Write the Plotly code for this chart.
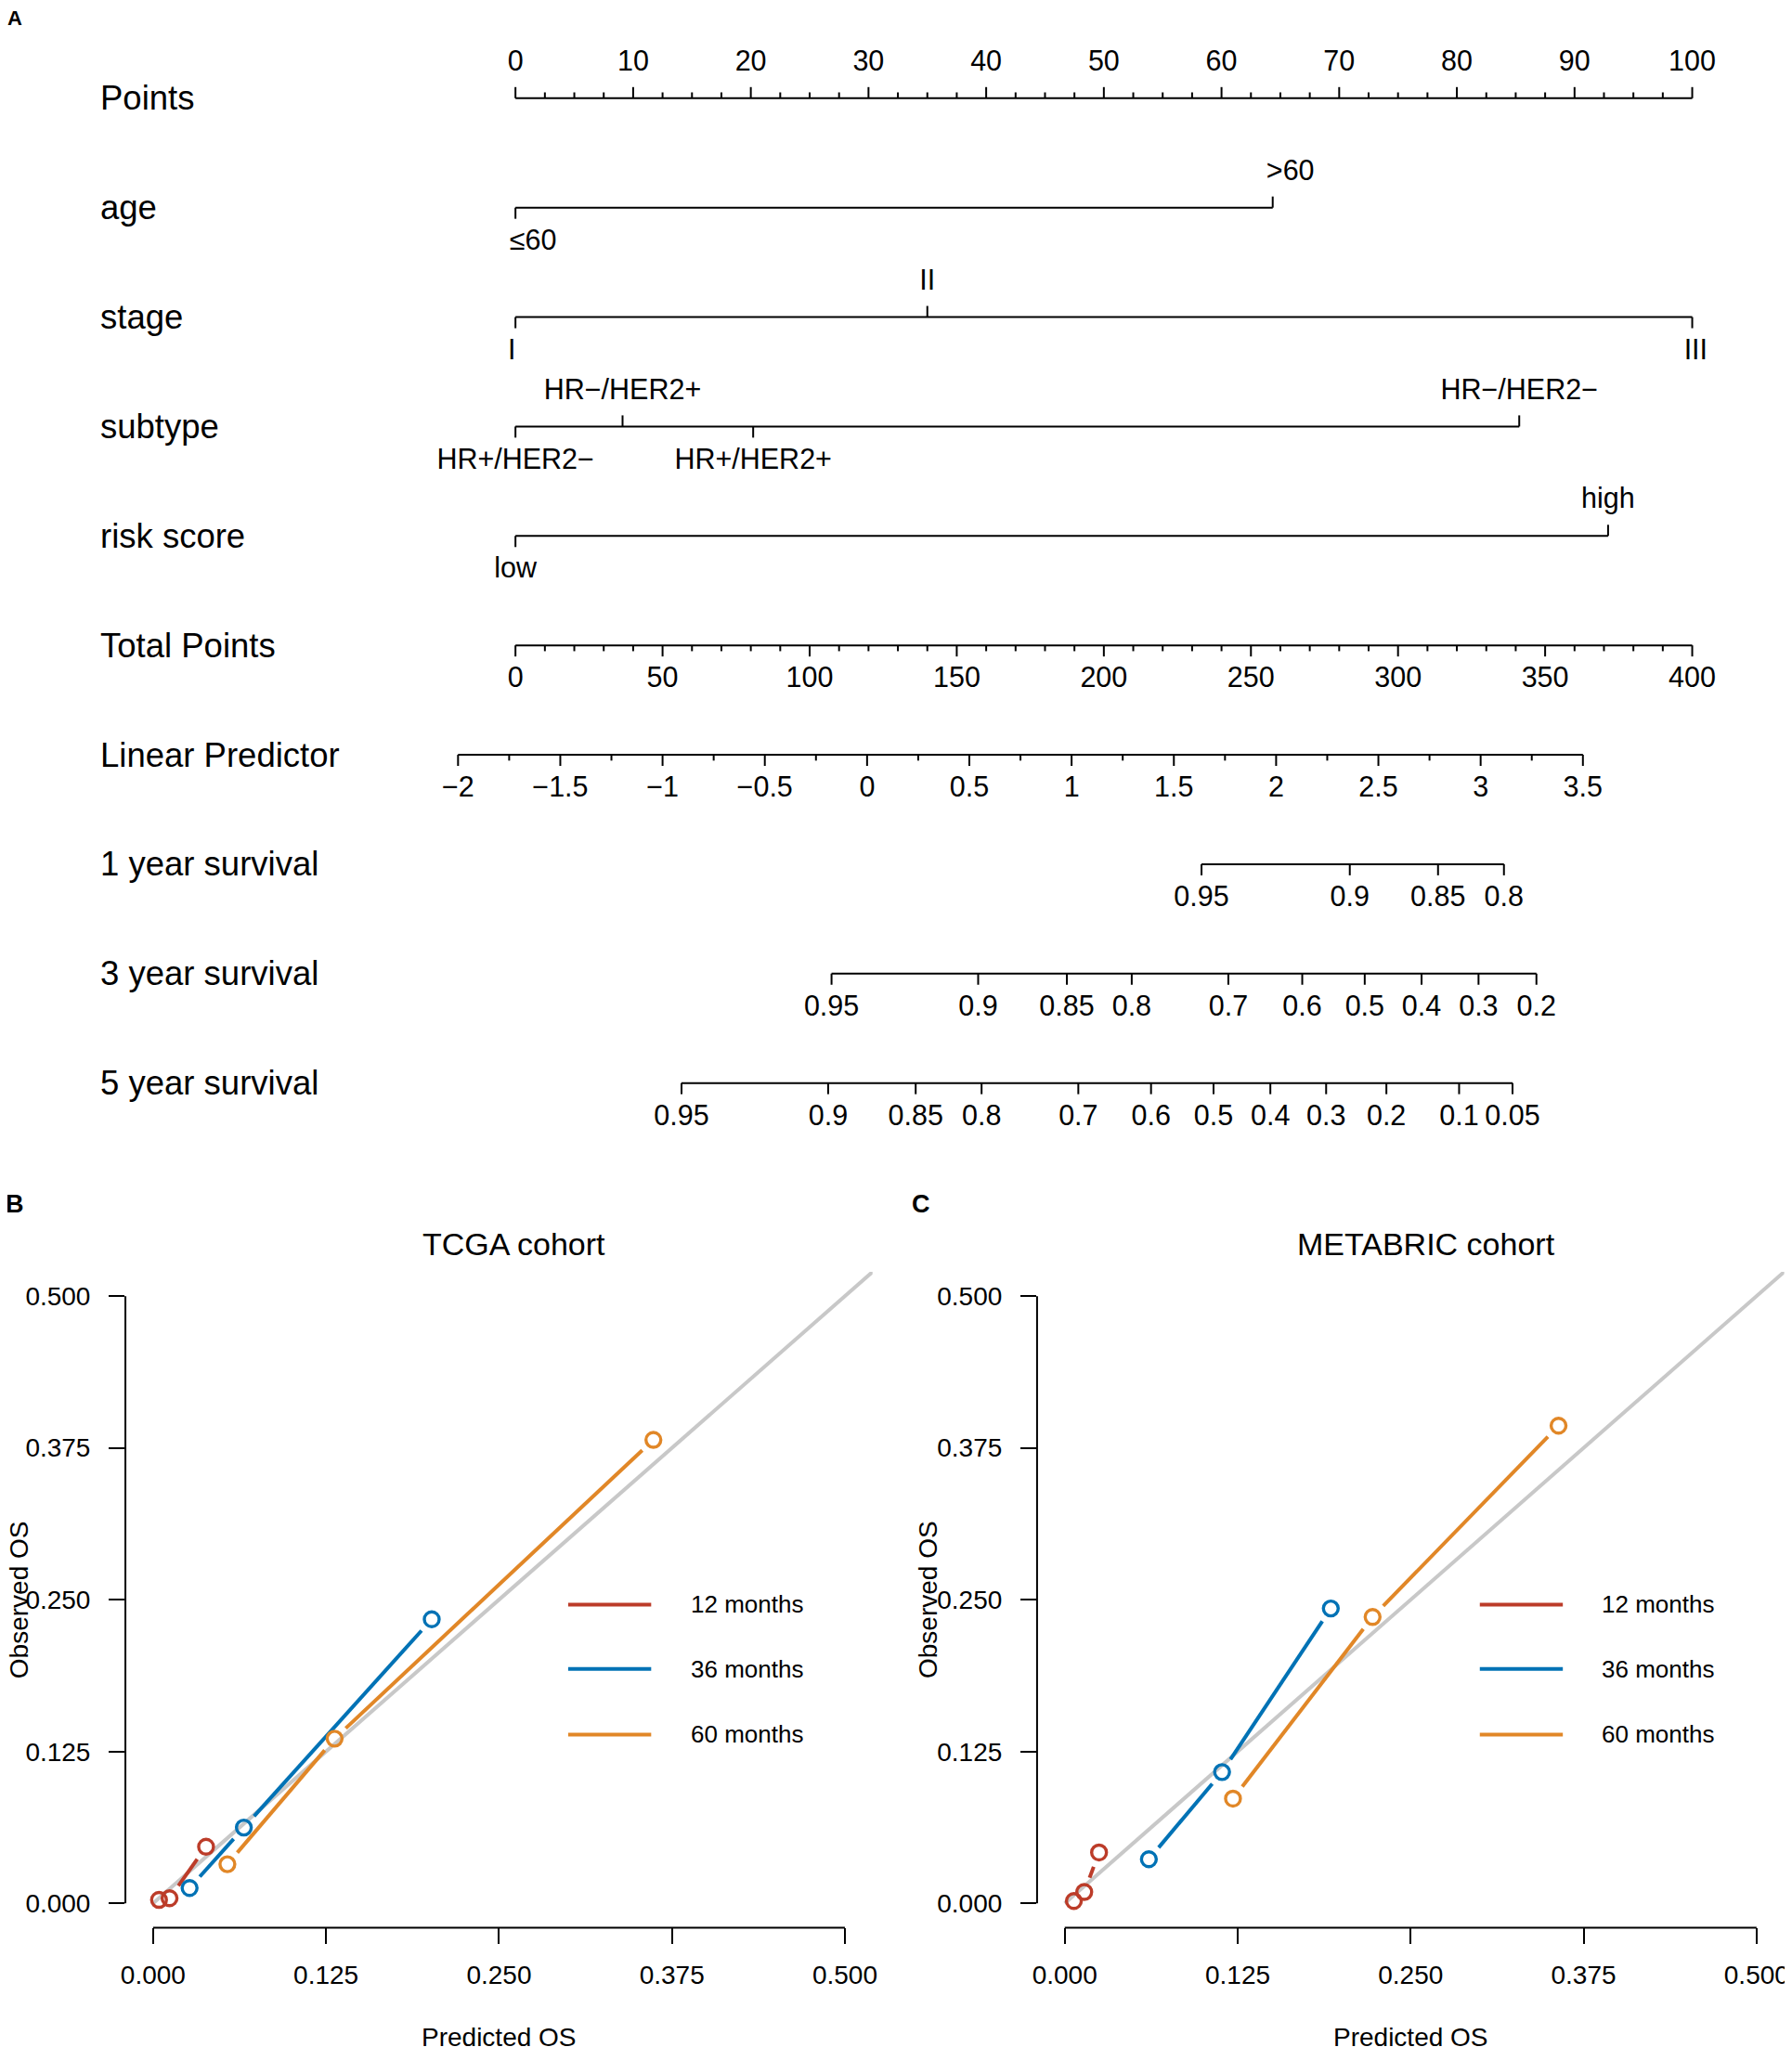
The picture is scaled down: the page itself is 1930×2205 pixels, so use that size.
import plotly.graph_objects as go

OFF = 8                      # page body margin of the html page
W, H = 1930 - OFF, 2205 - OFF
FONT = "Liberation Sans, Arial, sans-serif"

# ---------------- Panel A: nomogram (positions on the 0-100 Points scale) ----------------
row_names = ["Points", "age", "stage", "subtype", "risk score", "Total Points",
             "Linear Predictor", "1 year survival", "3 year survival", "5 year survival"]

points_major = list(range(0, 101, 10))
points_minor = [2.5 * i for i in range(41) if (2.5 * i) % 10]

age_labels = ["≤60", ">60"]
age_points = [0, 64.35]
age_side = [1, -1]          # 1 = tick/label below the line, -1 = above

stage_labels = ["I", "II", "III"]
stage_points = [0, 35.0, 100]
stage_side = [1, -1, 1]

subtype_labels = ["HR+/HER2−", "HR−/HER2+", "HR+/HER2+", "HR−/HER2−"]
subtype_points = [0, 9.1, 20.2, 85.3]
subtype_side = [1, -1, 1, -1]

risk_labels = ["low", "high"]
risk_points = [0, 92.85]
risk_side = [1, -1]

total_major = list(range(0, 401, 50))
total_minor = [t for t in range(0, 401, 10) if t % 50]

lp_major = [-2, -1.5, -1, -0.5, 0, 0.5, 1, 1.5, 2, 2.5, 3, 3.5]
lp_minor = [-1.75, -1.25, -0.75, -0.25, 0.25, 0.75, 1.25, 1.75, 2.25, 2.75, 3.25]
lp_zero_points = 29.88      # Points value where the linear predictor is 0
lp_points_per_unit = 17.38

surv1_labels = ["0.95", "0.9", "0.85", "0.8"]
surv1_points = [58.3, 70.9, 78.4, 84.0]

surv3_labels = ["0.95", "0.9", "0.85", "0.8", "0.7", "0.6", "0.5", "0.4", "0.3", "0.2"]
surv3_points = [26.86, 39.32, 46.86, 52.37, 60.58, 66.86, 72.17, 77.0, 81.84, 86.76]

surv5_labels = ["0.95", "0.9", "0.85", "0.8", "0.7", "0.6", "0.5", "0.4", "0.3", "0.2", "0.1", "0.05"]
surv5_points = [14.11, 26.57, 34.01, 39.61, 47.83, 54.01, 59.32, 64.15, 68.89, 74.01, 80.19, 84.73]

# ---------------- Panels B / C: calibration curves ----------------
groups = ["12 months", "36 months", "60 months"]
colors = ["#BC3C29", "#0072B5", "#E18727"]

tcga_pred = [[0.0043, 0.0119, 0.0383], [0.0264, 0.0656, 0.2014], [0.0537, 0.1312, 0.3616]]
tcga_obs = [[0.0028, 0.0042, 0.0466], [0.0126, 0.0624, 0.2339], [0.0322, 0.1356, 0.3816]]

meta_pred = [[0.0066, 0.0141, 0.0248], [0.0608, 0.1137, 0.1923], [0.1216, 0.2225, 0.3569]]
meta_obs = [[0.0019, 0.0093, 0.0419], [0.0363, 0.1081, 0.2428], [0.0862, 0.2358, 0.3933]]

cal_ticks = [0, 0.125, 0.25, 0.375, 0.5]
cal_ticktext = ["0.000", "0.125", "0.250", "0.375", "0.500"]


def px(x):
    return (x - OFF) / W


def py(y):
    return 1 - (y - OFF) / H


fig = go.Figure()

# ---- nomogram axes: x in Points units, y in row index ----
PX_PER_POINT = 12.74
X0_PX = 553 - OFF
ROW0_PX = 105.8 - OFF
ROW_PX = 117.87
fig.update_layout(
    xaxis3=dict(domain=[0, 1], range=[-X0_PX / PX_PER_POINT, (W - X0_PX) / PX_PER_POINT],
                visible=False, anchor="y3"),
    yaxis3=dict(domain=[0, 1], range=[(H - ROW0_PX) / ROW_PX, -ROW0_PX / ROW_PX],
                visible=False, anchor="x3"),
)

MAJOR = 12 / ROW_PX
MINOR = 6.3 / ROW_PX
LABEL_OFF = 37.5 / ROW_PX
LW = 2


def add_row(row, pos, labels, sides, minor=(), shift=0.0):
    allpos = list(pos) + list(minor)
    fig.add_trace(go.Scatter(x=[min(allpos), max(allpos)], y=[row, row], mode="lines",
                             line=dict(color="black", width=LW), xaxis="x3", yaxis="y3",
                             hoverinfo="skip"))
    tx, ty = [], []
    for p, s in zip(pos, sides):
        tx += [p, p, None]
        ty += [row, row + s * MAJOR, None]
    for p in minor:
        s = sides[0]
        tx += [p, p, None]
        ty += [row, row + s * MINOR, None]
    fig.add_trace(go.Scatter(x=tx, y=ty, mode="lines", line=dict(color="black", width=LW),
                             xaxis="x3", yaxis="y3", hoverinfo="skip"))
    shifts = shift if isinstance(shift, (list, tuple)) else [shift] * len(pos)
    fig.add_trace(go.Scatter(x=[p + d for p, d in zip(pos, shifts)],
                             y=[row + s * LABEL_OFF for s in sides],
                             text=labels, mode="text", textposition="middle center",
                             textfont=dict(size=30.5, family=FONT, color="black"),
                             cliponaxis=False, xaxis="x3", yaxis="y3", hoverinfo="skip"))


add_row(0, points_major, [str(v) for v in points_major], [-1] * len(points_major), points_minor)
add_row(1, age_points, age_labels, age_side, shift=1.5)
add_row(2, stage_points, stage_labels, stage_side, shift=[-0.3, 0, 0.3])
add_row(3, subtype_points, subtype_labels, subtype_side)
add_row(4, risk_points, risk_labels, risk_side)
add_row(5, [t / 4 for t in total_major], [str(t) for t in total_major], [1] * len(total_major),
        [t / 4 for t in total_minor])
lp_fmt = [("−" if v < 0 else "") + ("%g" % abs(v)) for v in lp_major]
add_row(6, [lp_zero_points + lp_points_per_unit * v for v in lp_major], lp_fmt, [1] * len(lp_major),
        [lp_zero_points + lp_points_per_unit * v for v in lp_minor])
add_row(7, surv1_points, surv1_labels, [1] * len(surv1_points))
add_row(8, surv3_points, surv3_labels, [1] * len(surv3_points))
add_row(9, surv5_points, surv5_labels, [1] * len(surv5_points))

annotations = []
for i, name in enumerate(row_names):
    annotations.append(dict(x=(101 - OFF - X0_PX) / PX_PER_POINT, y=i, xref="x3", yref="y3",
                            text=name, showarrow=False, xanchor="left", yanchor="middle",
                            font=dict(size=36.5, family=FONT, color="black")))

# ---- calibration panels ----
CAL_RANGE = [-0.02, 0.52]
Y_DOM = [py(2076.4), py(1370)]
panels = [
    dict(xa="x", ya="y", xdom=[px(130.7), px(939.6)], pred=tcga_pred, obs=tcga_obs,
         title="TCGA cohort", title_px=551, letter="B", letter_px=11, ylab_px=15),
    dict(xa="x2", ya="y2", xdom=[px(1117.7), px(1926.6)], pred=meta_pred, obs=meta_obs,
         title="METABRIC cohort", title_px=1539, letter="C", letter_px=992, ylab_px=999),
]

legend_x = [0.30, 0.36]
legend_text_x = 0.387
legend_y = [0.246, 0.193, 0.139]
GAP = 16.5
shapes = []


def to_paper(p, x, y):
    xd, yd = p["xdom"], Y_DOM
    fx = (x - CAL_RANGE[0]) / (CAL_RANGE[1] - CAL_RANGE[0])
    fy = (y - CAL_RANGE[0]) / (CAL_RANGE[1] - CAL_RANGE[0])
    return xd[0] + fx * (xd[1] - xd[0]), yd[0] + fy * (yd[1] - yd[0])


for k, p in enumerate(panels):
    sfx = "" if k == 0 else "2"
    sx = (p["xdom"][1] - p["xdom"][0]) * W / (CAL_RANGE[1] - CAL_RANGE[0])
    sy = (Y_DOM[1] - Y_DOM[0]) * H / (CAL_RANGE[1] - CAL_RANGE[0])
    axis_common = dict(range=CAL_RANGE, showgrid=False, zeroline=False, showline=False,
                       ticks="outside", ticklen=17, tickwidth=2, tickcolor="black",
                       tickvals=cal_ticks, ticktext=cal_ticktext,
                       tickfont=dict(size=28, family=FONT, color="black"))
    fig.update_layout(**{
        "xaxis" + sfx: dict(domain=p["xdom"], anchor="y" + sfx, ticklabelstandoff=9, **axis_common),
        "yaxis" + sfx: dict(domain=Y_DOM, anchor="x" + sfx, ticklabelstandoff=14, **axis_common),
    })

    # ideal diagonal
    fig.add_trace(go.Scatter(x=[0, 1], y=[0, 1], mode="lines", line=dict(color="#C8C8C8", width=4),
                             xaxis=p["xa"], yaxis=p["ya"], hoverinfo="skip"))

    for g in range(len(groups)):
        xs, ys = p["pred"][g], p["obs"][g]
        lx, ly = [], []
        for i in range(len(xs) - 1):
            dx, dy = xs[i + 1] - xs[i], ys[i + 1] - ys[i]
            d = ((dx * sx) ** 2 + (dy * sy) ** 2) ** 0.5
            if d <= 2 * GAP:
                continue
            f = GAP / d
            lx += [xs[i] + dx * f, xs[i + 1] - dx * f, None]
            ly += [ys[i] + dy * f, ys[i + 1] - dy * f, None]
        fig.add_trace(go.Scatter(x=lx, y=ly, mode="lines", line=dict(color=colors[g], width=4),
                                 xaxis=p["xa"], yaxis=p["ya"], hoverinfo="skip"))
        fig.add_trace(go.Scatter(x=xs, y=ys, mode="markers",
                                 marker=dict(symbol="circle-open", size=16, color=colors[g],
                                             line=dict(width=3.4, color=colors[g])),
                                 xaxis=p["xa"], yaxis=p["ya"], hoverinfo="skip"))
        # legend
        fig.add_trace(go.Scatter(x=legend_x, y=[legend_y[g]] * 2, mode="lines",
                                 line=dict(color=colors[g], width=4),
                                 xaxis=p["xa"], yaxis=p["ya"], hoverinfo="skip"))
        annotations.append(dict(x=legend_text_x, y=legend_y[g], xref=p["xa"], yref=p["ya"],
                                text=groups[g], showarrow=False, xanchor="left", yanchor="middle",
                                font=dict(size=26, family=FONT, color="black")))

    # R-style detached axis lines spanning the tick range only
    x0, y0 = to_paper(p, cal_ticks[0], CAL_RANGE[0])
    x1, _ = to_paper(p, cal_ticks[-1], CAL_RANGE[0])
    shapes.append(dict(type="line", xref="paper", yref="paper", x0=x0, x1=x1, y0=y0, y1=y0,
                       line=dict(color="black", width=2)))
    xa0, ya0 = to_paper(p, CAL_RANGE[0], cal_ticks[0])
    _, ya1 = to_paper(p, CAL_RANGE[0], cal_ticks[-1])
    shapes.append(dict(type="line", xref="paper", yref="paper", x0=xa0, x1=xa0, y0=ya0, y1=ya1,
                       line=dict(color="black", width=2)))

    annotations.append(dict(x=px(p["title_px"]), y=py(1340), xref="paper", yref="paper",
                            text=p["title"], showarrow=False, xanchor="center", yanchor="middle",
                            font=dict(size=34, family=FONT, color="black")))
    annotations.append(dict(x=px(p["ylab_px"]), y=(Y_DOM[0] + Y_DOM[1]) / 2, xref="paper",
                            yref="paper", text="Observed OS", textangle=-90, showarrow=False,
                            xanchor="center", yanchor="middle",
                            font=dict(size=28, family=FONT, color="black")))
    xc, _ = to_paper(p, 0.25, 0)
    annotations.append(dict(x=xc, y=py(2194), xref="paper", yref="paper", text="Predicted OS",
                            showarrow=False, xanchor="center", yanchor="middle",
                            font=dict(size=28, family=FONT, color="black")))
    annotations.append(dict(x=px(p["letter_px"]), y=py(1297), xref="paper", yref="paper",
                            text="<b>" + p["letter"] + "</b>", showarrow=False, xanchor="center",
                            yanchor="middle", font=dict(size=27, family=FONT, color="black")))

annotations.append(dict(x=px(11), y=py(19), xref="paper", yref="paper", text="<b>A</b>",
                        showarrow=False, xanchor="center", yanchor="middle",
                        font=dict(size=22, family=FONT, color="black")))

fig.update_layout(width=W, height=H, margin=dict(l=0, r=0, t=0, b=0), showlegend=False,
                  paper_bgcolor="white", plot_bgcolor="rgba(0,0,0,0)",
                  font=dict(family=FONT, color="black"),
                  annotations=annotations, shapes=shapes)

fig.write_html("out.html")
